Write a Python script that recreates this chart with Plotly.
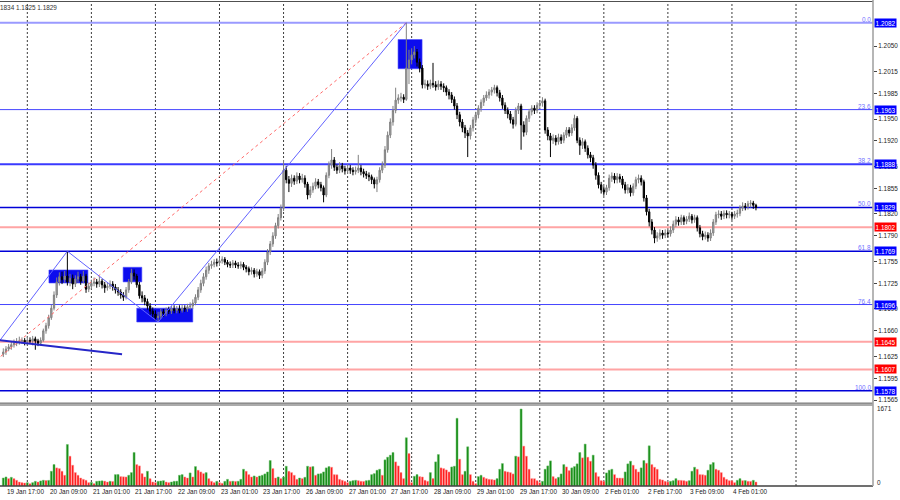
import plotly.graph_objects as go

# ---------------- data (EURUSD H1) ----------------
opens = [
1.1628,1.1631,1.1635,1.1638,1.1641,1.1643,1.1645,1.1646,1.1647,1.1645,
1.1647,1.1646,1.1649,1.1646,1.1643,1.1647,1.1660,1.1667,1.1678,1.1691,
1.1709,1.1727,1.1734,1.1730,1.1735,1.1727,1.1732,1.1724,1.1731,1.1734,
1.1728,1.1735,1.1717,1.1721,1.1725,1.1727,1.1724,1.1728,1.1723,1.1719,
1.1721,1.1724,1.1720,1.1716,1.1713,1.1709,1.1706,1.1716,1.1727,1.1739,
1.1735,1.1723,1.1708,1.1705,1.1700,1.1694,1.1687,1.1683,1.1678,1.1680,
1.1686,1.1684,1.1688,1.1687,1.1690,1.1688,1.1690,1.1688,1.1691,1.1690,
1.1693,1.1694,1.1698,1.1706,1.1716,1.1725,1.1734,1.1743,1.1749,1.1751,
1.1754,1.1753,1.1756,1.1758,1.1754,1.1751,1.1750,1.1753,1.1750,1.1749,
1.1751,1.1747,1.1745,1.1741,1.1743,1.1738,1.1741,1.1736,1.1742,1.1754,
1.1768,1.1779,1.1790,1.1804,1.1815,1.1828,1.1880,1.1867,1.1862,1.1869,
1.1865,1.1872,1.1867,1.1869,1.1861,1.1846,1.1853,1.1858,1.1864,1.1860,
1.1856,1.1846,1.1873,1.1887,1.1894,1.1884,1.1880,1.1886,1.1882,1.1879,
1.1883,1.1880,1.1878,1.1880,1.1883,1.1878,1.1875,1.1873,1.1871,1.1867,
1.1861,1.1867,1.1880,1.1887,1.1908,1.1928,1.1946,1.1962,1.1976,1.1979,
1.1980,1.1977,1.2020,1.2031,1.2038,1.2042,1.2028,1.2020,1.1997,1.1998,
1.1995,1.1999,1.1997,1.1994,1.1998,1.1995,1.1993,1.1987,1.1983,1.1977,
1.1968,1.1956,1.1946,1.1938,1.1931,1.1927,1.1938,1.1949,1.1956,1.1965,
1.1973,1.1979,1.1983,1.1987,1.1990,1.1993,1.1986,1.1979,1.1969,1.1962,
1.1957,1.1949,1.1943,1.1962,1.1968,1.1942,1.1932,1.1951,1.1960,1.1965,
1.1962,1.1969,1.1972,1.1975,1.1935,1.1927,1.1921,1.1924,1.1919,1.1925,
1.1921,1.1928,1.1935,1.1931,1.1938,1.1951,1.1921,1.1914,1.1919,1.1910,
1.1901,1.1897,1.1887,1.1873,1.1860,1.1853,1.1850,1.1856,1.1869,1.1872,
1.1867,1.1871,1.1868,1.1860,1.1853,1.1856,1.1849,1.1858,1.1867,1.1869,
1.1864,1.1842,1.1823,1.1809,1.1798,1.1787,1.1790,1.1794,1.1791,1.1794,
1.1793,1.1798,1.1806,1.1812,1.1809,1.1815,1.1810,1.1813,1.1817,1.1812,
1.1815,1.1801,1.1793,1.1789,1.1791,1.1787,1.1794,1.1809,1.1819,1.1820,
1.1817,1.1821,1.1819,1.1820,1.1817,1.1820,1.1821,1.1828,1.1831,1.1830,
1.1834,1.1835,1.1832]

highs = [
1.1636,1.1639,1.1642,1.1646,1.1648,1.1650,1.1652,1.1651,1.1650,1.1652,
1.1651,1.1653,1.1652,1.1649,1.1651,1.1663,1.1671,1.1682,1.1696,1.1714,
1.1733,1.1740,1.1741,1.1742,1.1769,1.1738,1.1737,1.1736,1.1741,1.1738,
1.1742,1.1738,1.1726,1.1730,1.1733,1.1731,1.1734,1.1731,1.1727,1.1726,
1.1729,1.1728,1.1724,1.1720,1.1717,1.1713,1.1720,1.1731,1.1745,1.1744,
1.1738,1.1727,1.1714,1.1709,1.1704,1.1698,1.1692,1.1688,1.1686,1.1690,
1.1690,1.1692,1.1693,1.1694,1.1695,1.1694,1.1695,1.1696,1.1695,1.1697,
1.1699,1.1703,1.1710,1.1720,1.1730,1.1739,1.1748,1.1753,1.1756,1.1758,
1.1759,1.1760,1.1762,1.1761,1.1757,1.1755,1.1757,1.1756,1.1754,1.1755,
1.1754,1.1750,1.1748,1.1747,1.1746,1.1745,1.1744,1.1746,1.1758,1.1772,
1.1783,1.1795,1.1808,1.1820,1.1833,1.1894,1.1886,1.1872,1.1874,1.1873,
1.1877,1.1876,1.1875,1.1873,1.1864,1.1858,1.1863,1.1869,1.1868,1.1864,
1.1859,1.1877,1.1892,1.1909,1.1898,1.1888,1.1891,1.1890,1.1886,1.1888,
1.1887,1.1884,1.1885,1.1901,1.1887,1.1882,1.1879,1.1877,1.1874,1.1870,
1.1871,1.1884,1.1892,1.1913,1.1933,1.1951,1.1968,1.1993,1.1984,1.1986,
1.1984,1.2082,1.2045,1.2047,1.2050,1.2046,1.2033,1.2024,1.2004,1.2003,
1.2004,1.2027,1.2002,1.2003,1.2002,1.1999,1.1996,1.1991,1.1987,1.1981,
1.1972,1.1960,1.1950,1.1942,1.1935,1.1942,1.1953,1.1960,1.1969,1.1977,
1.1983,1.1988,1.1991,1.1994,1.1997,1.1996,1.1990,1.1983,1.1973,1.1966,
1.1961,1.1953,1.1966,1.1972,1.1971,1.1947,1.1955,1.1964,1.1969,1.1969,
1.1973,1.1976,1.1980,1.1978,1.1939,1.1931,1.1929,1.1928,1.1930,1.1929,
1.1932,1.1939,1.1939,1.1943,1.1956,1.1954,1.1925,1.1924,1.1922,1.1914,
1.1905,1.1901,1.1891,1.1877,1.1864,1.1858,1.1860,1.1874,1.1877,1.1876,
1.1876,1.1875,1.1872,1.1864,1.1861,1.1860,1.1862,1.1871,1.1874,1.1873,
1.1867,1.1846,1.1827,1.1813,1.1802,1.1795,1.1799,1.1798,1.1799,1.1798,
1.1803,1.1811,1.1817,1.1816,1.1819,1.1818,1.1817,1.1822,1.1820,1.1819,
1.1818,1.1805,1.1797,1.1796,1.1795,1.1799,1.1813,1.1823,1.1825,1.1824,
1.1825,1.1825,1.1824,1.1823,1.1824,1.1826,1.1832,1.1836,1.1835,1.1838,
1.1839,1.1838,1.1834]

lows = [
1.1624,1.1627,1.1632,1.1634,1.1637,1.1639,1.1641,1.1642,1.1640,1.1641,
1.1642,1.1640,1.1634,1.1639,1.1640,1.1645,1.1656,1.1663,1.1675,1.1688,
1.1705,1.1722,1.1724,1.1726,1.1722,1.1721,1.1717,1.1720,1.1726,1.1723,
1.1725,1.1712,1.1713,1.1717,1.1721,1.1719,1.1720,1.1718,1.1712,1.1715,
1.1717,1.1715,1.1711,1.1708,1.1704,1.1701,1.1703,1.1712,1.1724,1.1730,
1.1719,1.1704,1.1699,1.1695,1.1689,1.1682,1.1678,1.1674,1.1672,1.1676,
1.1679,1.1680,1.1683,1.1683,1.1684,1.1684,1.1684,1.1685,1.1686,1.1686,
1.1689,1.1690,1.1695,1.1702,1.1712,1.1721,1.1730,1.1738,1.1745,1.1747,
1.1748,1.1749,1.1752,1.1750,1.1747,1.1746,1.1746,1.1746,1.1745,1.1745,
1.1743,1.1740,1.1736,1.1737,1.1733,1.1734,1.1731,1.1732,1.1738,1.1750,
1.1764,1.1775,1.1786,1.1800,1.1811,1.1824,1.1862,1.1850,1.1857,1.1860,
1.1861,1.1862,1.1863,1.1856,1.1840,1.1842,1.1849,1.1854,1.1855,1.1851,
1.1836,1.1843,1.1869,1.1882,1.1879,1.1875,1.1876,1.1877,1.1874,1.1875,
1.1875,1.1873,1.1874,1.1876,1.1873,1.1870,1.1868,1.1865,1.1861,1.1855,
1.1850,1.1863,1.1876,1.1883,1.1904,1.1924,1.1941,1.1958,1.1971,1.1974,
1.1972,1.1975,1.1998,1.2025,1.2033,1.2022,1.2014,1.1992,1.1992,1.1990,
1.1991,1.1993,1.1989,1.1990,1.1990,1.1987,1.1982,1.1977,1.1972,1.1963,
1.1950,1.1940,1.1932,1.1924,1.1898,1.1922,1.1933,1.1944,1.1951,1.1960,
1.1968,1.1975,1.1978,1.1982,1.1985,1.1981,1.1974,1.1964,1.1957,1.1951,
1.1944,1.1937,1.1940,1.1957,1.1908,1.1926,1.1928,1.1946,1.1955,1.1957,
1.1958,1.1964,1.1967,1.1930,1.1921,1.1898,1.1916,1.1914,1.1915,1.1916,
1.1917,1.1924,1.1926,1.1927,1.1934,1.1917,1.1901,1.1909,1.1905,1.1896,
1.1891,1.1882,1.1867,1.1855,1.1848,1.1845,1.1846,1.1852,1.1864,1.1862,
1.1862,1.1863,1.1855,1.1848,1.1848,1.1844,1.1845,1.1854,1.1862,1.1859,
1.1837,1.1818,1.1803,1.1792,1.1780,1.1782,1.1785,1.1786,1.1787,1.1788,
1.1789,1.1794,1.1802,1.1804,1.1805,1.1805,1.1806,1.1809,1.1807,1.1808,
1.1796,1.1788,1.1784,1.1785,1.1782,1.1783,1.1790,1.1805,1.1814,1.1812,
1.1813,1.1814,1.1814,1.1812,1.1813,1.1815,1.1817,1.1824,1.1825,1.1826,
1.1829,1.1827,1.1825]

closes = [
1.1631,1.1635,1.1638,1.1641,1.1643,1.1645,1.1646,1.1647,1.1645,1.1647,
1.1646,1.1649,1.1646,1.1643,1.1647,1.1660,1.1667,1.1678,1.1691,1.1709,
1.1727,1.1734,1.1730,1.1735,1.1727,1.1732,1.1724,1.1731,1.1734,1.1728,
1.1735,1.1717,1.1721,1.1725,1.1727,1.1724,1.1728,1.1723,1.1719,1.1721,
1.1724,1.1720,1.1716,1.1713,1.1709,1.1706,1.1716,1.1727,1.1739,1.1735,
1.1723,1.1708,1.1705,1.1700,1.1694,1.1687,1.1683,1.1678,1.1680,1.1686,
1.1684,1.1688,1.1687,1.1690,1.1688,1.1690,1.1688,1.1691,1.1690,1.1693,
1.1694,1.1698,1.1706,1.1716,1.1725,1.1734,1.1743,1.1749,1.1751,1.1754,
1.1753,1.1756,1.1758,1.1754,1.1751,1.1750,1.1753,1.1750,1.1749,1.1751,
1.1747,1.1745,1.1741,1.1743,1.1738,1.1741,1.1736,1.1742,1.1754,1.1768,
1.1779,1.1790,1.1804,1.1815,1.1828,1.1880,1.1867,1.1862,1.1869,1.1865,
1.1872,1.1867,1.1869,1.1861,1.1846,1.1853,1.1858,1.1864,1.1860,1.1856,
1.1846,1.1873,1.1887,1.1894,1.1884,1.1880,1.1886,1.1882,1.1879,1.1883,
1.1880,1.1878,1.1880,1.1883,1.1878,1.1875,1.1873,1.1871,1.1867,1.1861,
1.1867,1.1880,1.1887,1.1908,1.1928,1.1946,1.1962,1.1976,1.1979,1.1980,
1.1977,1.2020,1.2031,1.2038,1.2042,1.2028,1.2020,1.1997,1.1998,1.1995,
1.1999,1.1997,1.1994,1.1998,1.1995,1.1993,1.1987,1.1983,1.1977,1.1968,
1.1956,1.1946,1.1938,1.1931,1.1927,1.1938,1.1949,1.1956,1.1965,1.1973,
1.1979,1.1983,1.1987,1.1990,1.1993,1.1986,1.1979,1.1969,1.1962,1.1957,
1.1949,1.1943,1.1962,1.1968,1.1942,1.1932,1.1951,1.1960,1.1965,1.1962,
1.1969,1.1972,1.1975,1.1935,1.1927,1.1921,1.1924,1.1919,1.1925,1.1921,
1.1928,1.1935,1.1931,1.1938,1.1951,1.1921,1.1914,1.1919,1.1910,1.1901,
1.1897,1.1887,1.1873,1.1860,1.1853,1.1850,1.1856,1.1869,1.1872,1.1867,
1.1871,1.1868,1.1860,1.1853,1.1856,1.1849,1.1858,1.1867,1.1869,1.1864,
1.1842,1.1823,1.1809,1.1798,1.1787,1.1790,1.1794,1.1791,1.1794,1.1793,
1.1798,1.1806,1.1812,1.1809,1.1815,1.1810,1.1813,1.1817,1.1812,1.1815,
1.1801,1.1793,1.1789,1.1791,1.1787,1.1794,1.1809,1.1819,1.1820,1.1817,
1.1821,1.1819,1.1820,1.1817,1.1820,1.1821,1.1828,1.1831,1.1830,1.1834,
1.1835,1.1832,1.1829]

volumes = [
174,196,160,189,160,124,87,73,65,73,
51,73,102,87,110,125,118,122,320,465,
393,378,320,233,901,647,451,291,233,174,
145,124,73,80,51,102,109,112,106,87,
102,98,247,250,204,200,196,233,291,727,
465,436,269,196,320,160,87,73,102,109,
116,87,73,87,102,105,233,247,196,174,
284,196,422,342,305,269,291,160,102,73,
102,73,58,102,145,102,104,100,103,145,
364,320,247,196,218,196,218,233,262,305,
553,378,174,196,160,196,429,320,291,233,
145,174,160,189,429,414,422,233,262,269,
305,393,422,407,247,244,145,124,102,73,
102,116,124,116,102,100,116,124,247,269,
342,364,233,567,625,669,727,523,436,291,
160,1047,705,73,211,247,204,196,124,102,
291,160,523,683,393,378,349,305,414,429,
1469,582,247,320,851,247,102,51,204,233,
189,160,145,142,131,160,364,487,320,305,
291,262,647,633,1671,865,647,364,160,158,
116,73,102,364,436,545,204,160,189,262,
465,414,334,393,422,480,727,611,909,625,
538,669,291,204,116,102,284,342,364,247,
174,172,170,305,480,538,451,364,305,393,
553,494,872,465,407,364,145,131,102,87,
102,116,160,124,122,116,102,116,320,407,
364,247,245,233,342,465,509,364,342,291,
189,145,116,114,73,124,160,116,118,102,
100,124,87]

# time labels (bar index -> text), day grid (bar index of midnight)
label_idx = [2, 18, 34, 50, 66, 82, 98, 114, 130, 146, 162, 178, 194, 210, 226, 242, 258, 274]
label_txt = ["19 Jan 17:00", "20 Jan 09:00", "21 Jan 01:00", "21 Jan 17:00", "22 Jan 09:00",
             "23 Jan 01:00", "23 Jan 17:00", "26 Jan 09:00", "27 Jan 01:00", "27 Jan 17:00",
             "28 Jan 09:00", "29 Jan 01:00", "29 Jan 17:00", "30 Jan 09:00", "2 Feb 01:00",
             "2 Feb 17:00", "3 Feb 09:00", "4 Feb 01:00"]
grid_idx = [9, 33, 57, 81, 105, 129, 153, 177, 201, 225, 249, 273, 297]

# price scale labels
price_ticks = [1.2050, 1.2015, 1.1985, 1.1950, 1.1920, 1.1885, 1.1855, 1.1820,
               1.1790, 1.1755, 1.1725, 1.1690, 1.1660, 1.1625, 1.1595, 1.1565]

# Fibonacci levels and extra support/resistance levels
fib_levels = [1.2082, 1.1963, 1.1888, 1.1829, 1.1769, 1.1696, 1.1578]
fib_names = ["0.0", "23.6", "38.2", "50.0", "61.8", "76.4", "100.0"]
red_levels = [1.1802, 1.1645, 1.1607]

# Fibonacci diagonal (bar index, price)
fib_diag_x = [-16.6, 151]
fib_diag_y = [1.1578, 1.2082]
# zigzag
zig_x = [-1.24, 24, 58, 151]
zig_y = [1.1647, 1.1769, 1.1672, 1.2082]
# lower trend line
trend_x = [-1.24, 44.5]
trend_y = [1.1647, 1.1628]
# highlighted rectangles (x0, x1, y0, y1)
box_x0 = [17.1, 44.9, 50.0, 147.9]
box_x1 = [31.7, 51.9, 71.0, 156.9]
box_y0 = [1.17255, 1.1727, 1.1672, 1.2019]
box_y1 = [1.17433, 1.1747, 1.1691, 1.2059]

header_text = "1834 1.1825 1.1829"
vol_max_label = "1671"

# ---------------- figure ----------------
FONT = "Liberation Sans, Arial, sans-serif"
FS = 6.4
bar_index = list(range(len(closes)))

vol_colors, vol_edges = [], []
for i, v in enumerate(volumes):
    if i == 0 or v > volumes[i - 1]:
        vol_colors.append("#128a12")
        vol_edges.append("#6cc06c")
    else:
        vol_colors.append("#ff1414")
        vol_edges.append("#ff9a9a")

fig = go.Figure()

fig.add_trace(go.Scatter(x=fib_diag_x, y=fib_diag_y, mode="lines",
                         line=dict(color="#ff6a6a", width=1, dash="3px,3px"),
                         hoverinfo="skip", showlegend=False, xaxis="x", yaxis="y"))
fig.add_trace(go.Scatter(x=zig_x, y=zig_y, mode="lines",
                         line=dict(color="#6262ff", width=1),
                         hoverinfo="skip", showlegend=False, xaxis="x", yaxis="y"))
fig.add_trace(go.Scatter(x=trend_x, y=trend_y, mode="lines",
                         line=dict(color="#2626c8", width=2),
                         hoverinfo="skip", showlegend=False, xaxis="x", yaxis="y"))

fig.add_trace(go.Candlestick(
    x=bar_index, open=opens, high=highs, low=lows, close=closes,
    xaxis="x", yaxis="y",
    increasing=dict(line=dict(color="#808080", width=1), fillcolor="#a8a8a8"),
    decreasing=dict(line=dict(color="#000000", width=1), fillcolor="#000000"),
    whiskerwidth=0, showlegend=False, hoverinfo="skip"))

fig.add_trace(go.Bar(x=bar_index, y=volumes, xaxis="x", yaxis="y2",
                     marker=dict(color=vol_colors, line=dict(color=vol_edges, width=0.5)),
                     width=0.74, showlegend=False, hoverinfo="skip"))

shapes = []
# day grid
for gi in grid_idx:
    shapes.append(dict(type="line", xref="x", yref="paper", x0=gi, x1=gi, y0=0, y1=1,
                       line=dict(color="#3c3c3c", width=1, dash="2px,2px"), layer="below"))
# rectangles
for x0, x1, y0, y1 in zip(box_x0, box_x1, box_y0, box_y1):
    shapes.append(dict(type="rect", xref="x", yref="y", x0=x0, x1=x1, y0=y0, y1=y1,
                       fillcolor="#0c0cee", line=dict(color="#4a4aff", width=0.6), layer="below"))
# fibonacci levels
fib_style = {"0.0": ("#9a9aff", 2), "23.6": ("#4646ff", 1), "38.2": ("#3a3aff", 2),
             "50.0": ("#0000d8", 1.5), "61.8": ("#0000d8", 1.5), "76.4": ("#4646ff", 1),
             "100.0": ("#0000d8", 1.5)}
for lvl, nm in zip(fib_levels, fib_names):
    c, w = fib_style[nm]
    shapes.append(dict(type="line", xref="paper", yref="y", x0=0, x1=1, y0=lvl, y1=lvl,
                       line=dict(color=c, width=w), layer="below"))
for lvl in red_levels:
    shapes.append(dict(type="line", xref="paper", yref="y", x0=0, x1=1, y0=lvl, y1=lvl,
                       line=dict(color="#ffa4a4", width=2), layer="below"))
# panel separator, frame
shapes.append(dict(type="rect", xref="paper", yref="paper", x0=0, x1=1, y0=0.1653, y1=0.1715,
                   fillcolor="#ababab", line=dict(width=0), layer="above"))
shapes.append(dict(type="line", xref="paper", yref="paper", x0=0, x1=1, y0=0.1715, y1=0.1715,
                   line=dict(color="#606060", width=0.8), layer="above"))
shapes.append(dict(type="line", xref="paper", yref="paper", x0=0, x1=1, y0=1.001, y1=1.001,
                   line=dict(color="#505050", width=1.2), layer="above"))
shapes.append(dict(type="line", xref="paper", yref="paper", x0=0, x1=1, y0=0, y1=0,
                   line=dict(color="#404040", width=1.5), layer="above"))
shapes.append(dict(type="line", xref="paper", yref="paper", x0=1, x1=1, y0=0, y1=1.004,
                   line=dict(color="#a4a4a4", width=1.6), layer="above"))

annotations = []
for lvl, nm in zip(fib_levels, fib_names):
    annotations.append(dict(xref="paper", yref="y", x=1, y=lvl, xanchor="right", yanchor="bottom",
                            xshift=-1, yshift=-1, text=nm, showarrow=False, borderpad=0,
                            font=dict(family=FONT, size=FS, color="#7272ff")))
for lvl in fib_levels:
    annotations.append(dict(xref="paper", yref="y", x=1, y=lvl, xanchor="left", yanchor="middle",
                            xshift=1, text=f"{lvl:.4f}", showarrow=False, bgcolor="#0000ff",
                            borderpad=0.6, font=dict(family=FONT, size=FS, color="#ffffff")))
for lvl in red_levels:
    annotations.append(dict(xref="paper", yref="y", x=1, y=lvl, xanchor="left", yanchor="middle",
                            xshift=1, text=f"{lvl:.4f}", showarrow=False, bgcolor="#ff0000",
                            borderpad=0.6, font=dict(family=FONT, size=FS, color="#ffffff")))
for li, lt in zip(label_idx, label_txt):
    annotations.append(dict(xref="x", yref="paper", x=li, y=0, xanchor="left", yanchor="top",
                            xshift=-2.5, yshift=-1, text=lt, showarrow=False, borderpad=0,
                            font=dict(family=FONT, size=FS, color="#222222")))
annotations.append(dict(xref="paper", yref="paper", x=0, y=1, xanchor="left", yanchor="top",
                        xshift=-1, yshift=-1, text=header_text, showarrow=False, borderpad=0,
                        font=dict(family=FONT, size=FS, color="#333333")))
annotations.append(dict(xref="paper", yref="y2", x=1, y=max(volumes), xanchor="left", yanchor="middle",
                        xshift=3, text=vol_max_label, showarrow=False, borderpad=0,
                        font=dict(family=FONT, size=FS, color="#222222")))
annotations.append(dict(xref="paper", yref="y2", x=1, y=0, xanchor="left", yanchor="middle",
                        xshift=3, yshift=4, text="0", showarrow=False, borderpad=0,
                        font=dict(family=FONT, size=FS, color="#222222")))

fig.update_layout(
    width=900, height=500,
    margin=dict(l=0, r=27, t=2, b=14, pad=0),
    paper_bgcolor="#ffffff", plot_bgcolor="#ffffff",
    showlegend=False,
    font=dict(family=FONT, size=FS, color="#222222"),
    xaxis=dict(range=[-1.236, 325.85], anchor="y2", showgrid=False, zeroline=False,
               showticklabels=False, ticks="", showline=False, automargin=False,
               rangeslider=dict(visible=False), fixedrange=True),
    yaxis=dict(domain=[0.1715, 1], range=[1.15611, 1.21104], side="right", anchor="x",
               tickvals=price_ticks, ticktext=[f"{v:.4f}" for v in price_ticks],
               ticks="outside", ticklen=3, tickcolor="#444444", tickwidth=1,
               tickfont=dict(family=FONT, size=FS, color="#222222"),
               showgrid=False, zeroline=False, showline=False, automargin=False),
    yaxis2=dict(domain=[0, 0.1653], range=[0, 1736], side="right", anchor="x",
                showticklabels=False, ticks="", showgrid=False, zeroline=False,
                showline=False, automargin=False),
    shapes=shapes, annotations=annotations,
)

fig.write_html("out.html", config={"displayModeBar": False},
               post_script="document.body.style.margin='0px';document.body.style.overflow='hidden';")
